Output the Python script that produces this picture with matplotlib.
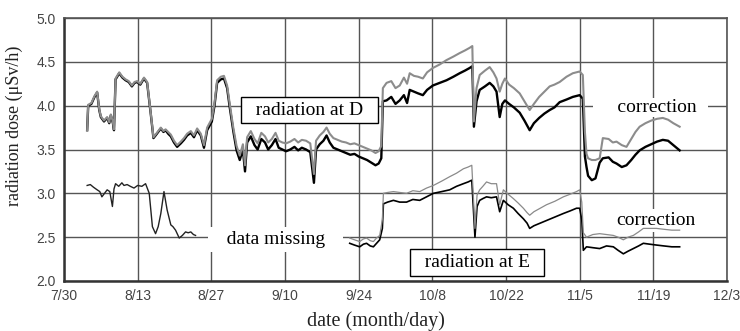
import numpy as np
import matplotlib.pyplot as plt

# days counted from 7/30
tick_days = [0, 14, 28, 42, 56, 70, 84, 98, 112, 126]
tick_labels = ['7/30', '8/13', '8/27', '9/10', '9/24', '10/8', '10/22', '11/5', '11/19', '12/3']
y_ticks = [2.0, 2.5, 3.0, 3.5, 4.0, 4.5, 5.0]

# radiation at D (x0.1 uSv/h scale as on the chart)
d_days = [4.4, 4.6, 5.2, 5.8, 6.3, 6.7, 7.0, 7.6, 8.2, 8.6,
          8.9, 9.3, 9.5, 9.8, 10.5, 11.1, 11.7, 12.3, 12.9, 13.4,
          13.9, 14.5, 15.2, 15.8, 16.5, 17.0, 17.4, 17.9, 18.4, 18.9,
          19.3, 19.8, 20.3, 20.9, 21.5, 22.2, 22.8, 23.4, 24.1, 24.7,
          25.3, 26.0, 26.6, 27.2, 28.1, 28.6, 29.1, 29.8, 30.4, 31.0,
          31.5, 32.2, 32.8, 33.4, 34.0, 34.4, 34.8, 35.5, 36.2, 36.8,
          37.5, 38.2, 38.8, 39.5, 40.2, 40.8, 41.5, 42.2, 43.0, 43.8,
          44.5, 45.2, 46.0, 46.8, 47.5, 47.9, 48.6, 49.3, 49.9, 50.5,
          51.2, 52.0, 52.8, 53.6, 54.4, 55.2, 56.0, 56.8, 57.6, 58.4,
          59.2, 59.8, 60.3, 60.6, 61.3, 62.2, 63.0, 63.8, 64.6, 65.2,
          65.7, 66.5, 67.3, 68.2, 69.0, 70.1, 71.4, 72.7, 74.0, 75.2,
          76.2, 77.1, 77.6, 77.9, 78.4, 79.0, 80.0, 80.9, 81.6, 82.2,
          82.8, 83.3, 83.8, 84.6, 85.5, 86.6, 87.5, 88.5, 89.3, 90.3,
          91.3, 92.3, 93.2, 94.2, 95.5, 96.7, 98.0, 98.6, 99.0, 99.3,
          99.6, 100.3, 101.0, 101.8, 102.4, 103.5, 104.3, 105.0, 106.0, 106.9,
          107.8, 108.6, 109.4, 110.5, 111.6, 112.7, 113.8, 114.8, 115.8, 117.0]
d_raw = [3.72, 4.00, 4.02, 4.10, 4.15, 3.95, 3.87, 3.82, 3.86, 3.80,
         3.89, 3.80, 3.72, 4.30, 4.37, 4.32, 4.29, 4.27, 4.22, 4.26,
         4.27, 4.24, 4.31, 4.26, 3.90, 3.63, 3.66, 3.70, 3.74, 3.70,
         3.72, 3.68, 3.65, 3.58, 3.53, 3.57, 3.61, 3.66, 3.69, 3.64,
         3.72, 3.66, 3.52, 3.72, 3.82, 4.00, 4.26, 4.30, 4.31, 4.20,
         3.98, 3.70, 3.49, 3.38, 3.50, 3.25, 3.58, 3.65, 3.55, 3.50,
         3.62, 3.58, 3.50, 3.55, 3.62, 3.52, 3.50, 3.48, 3.50, 3.53,
         3.49, 3.52, 3.50, 3.47, 3.12, 3.50, 3.56, 3.60, 3.66, 3.58,
         3.52, 3.50, 3.48, 3.46, 3.44, 3.45, 3.42, 3.40, 3.38, 3.35,
         3.32, 3.34, 3.40, 4.05, 4.06, 4.10, 4.02, 4.06, 4.12, 4.03,
         4.18, 4.16, 4.14, 4.12, 4.18, 4.23, 4.26, 4.29, 4.33, 4.37,
         4.40, 4.43, 4.45, 3.76, 4.05, 4.18, 4.22, 4.26, 4.22, 4.16,
         3.87, 4.02, 4.06, 4.02, 3.98, 3.92, 3.83, 3.72, 3.80, 3.86,
         3.91, 3.95, 3.98, 4.04, 4.07, 4.10, 4.12, 4.08, 3.42, 3.30,
         3.20, 3.15, 3.17, 3.35, 3.40, 3.41, 3.36, 3.34, 3.30, 3.32,
         3.38, 3.44, 3.49, 3.53, 3.56, 3.59, 3.61, 3.60, 3.55, 3.49]
d_corr = [3.72, 4.01, 4.03, 4.11, 4.16, 3.96, 3.88, 3.83, 3.87, 3.81,
          3.90, 3.81, 3.73, 4.31, 4.38, 4.33, 4.30, 4.28, 4.23, 4.27,
          4.28, 4.25, 4.32, 4.27, 3.91, 3.64, 3.67, 3.71, 3.75, 3.71,
          3.73, 3.70, 3.67, 3.60, 3.55, 3.59, 3.63, 3.68, 3.71, 3.66,
          3.74, 3.68, 3.55, 3.75, 3.85, 4.03, 4.29, 4.33, 4.34, 4.23,
          4.02, 3.74, 3.54, 3.43, 3.56, 3.32, 3.64, 3.71, 3.62, 3.57,
          3.69, 3.65, 3.58, 3.62, 3.69, 3.60, 3.58, 3.57, 3.59, 3.62,
          3.58, 3.61, 3.60, 3.57, 3.22, 3.60, 3.66, 3.70, 3.75, 3.68,
          3.63, 3.61, 3.59, 3.58, 3.56, 3.57, 3.55, 3.53, 3.51, 3.49,
          3.46, 3.48, 3.54, 4.20, 4.26, 4.28, 4.20, 4.23, 4.32, 4.25,
          4.37, 4.34, 4.33, 4.31, 4.38, 4.43, 4.47, 4.52, 4.56, 4.60,
          4.63, 4.66, 4.68, 3.82, 4.20, 4.35, 4.40, 4.44, 4.38, 4.31,
          4.16, 4.25, 4.31, 4.24, 4.20, 4.14, 4.05, 3.95, 4.02, 4.10,
          4.16, 4.22, 4.24, 4.27, 4.33, 4.37, 4.39, 4.35, 3.70, 3.45,
          3.40, 3.38, 3.38, 3.40, 3.63, 3.62, 3.58, 3.59, 3.55, 3.53,
          3.62, 3.70, 3.76, 3.80, 3.83, 3.85, 3.86, 3.84, 3.80, 3.76]

# radiation at E, before the missing-data gap
e1_days = [4.4, 5.0, 5.6, 6.3, 6.8, 7.2, 7.7, 8.2, 8.7, 9.2,
           9.5, 9.8, 10.4, 11.0, 11.4, 12.0, 12.6, 13.3, 14.0, 14.8,
           15.5, 16.2, 16.8, 17.4, 17.9, 18.4, 19.0, 19.6, 20.3, 20.7,
           21.2, 21.9, 22.5, 23.1, 23.6, 24.1, 24.6, 25.0]
e1_vals = [3.09, 3.10, 3.07, 3.04, 3.02, 2.96, 3.00, 3.04, 3.02, 2.85,
           3.05, 3.11, 3.08, 3.12, 3.09, 3.10, 3.08, 3.06, 3.09, 3.08,
           3.11, 3.00, 2.62, 2.54, 2.62, 2.77, 3.02, 2.81, 2.64, 2.62,
           2.58, 2.49, 2.52, 2.56, 2.55, 2.56, 2.53, 2.52]

# radiation at E, after the gap
e2_days = [54.3, 55.2, 56.2, 56.9, 57.5, 58.2, 58.8, 59.4, 60.0, 60.5,
           60.7, 61.5, 62.6, 63.8, 65.1, 66.3, 67.6, 68.9, 70.2, 71.8,
           73.3, 74.6, 75.9, 76.8, 77.5, 78.1, 78.5, 79.0, 79.6, 80.3,
           81.2, 82.2, 82.8, 83.5, 84.4, 85.4, 86.3, 87.3, 88.0, 88.5,
           89.3, 90.5, 91.7, 93.3, 94.9, 96.2, 97.4, 98.0, 98.4, 98.7,
           99.3, 100.5, 101.8, 103.1, 104.4, 105.3, 106.3, 107.2, 108.2, 109.2,
           110.1, 111.3, 112.6, 114.0, 115.5, 117.0]
e2_raw = [2.43, 2.41, 2.39, 2.42, 2.43, 2.40, 2.39, 2.43, 2.47, 2.60,
          2.88, 2.90, 2.92, 2.90, 2.90, 2.93, 2.92, 2.96, 3.00, 3.02,
          3.04, 3.08, 3.11, 3.13, 3.15, 2.50, 2.85, 2.92, 2.94, 2.96,
          2.95, 2.96, 2.79, 2.92, 2.87, 2.83, 2.77, 2.71, 2.66, 2.60,
          2.63, 2.66, 2.69, 2.73, 2.77, 2.80, 2.83, 2.83, 2.70, 2.35,
          2.39, 2.38, 2.37, 2.40, 2.39, 2.35, 2.31, 2.34, 2.37, 2.40,
          2.43, 2.42, 2.41, 2.40, 2.39, 2.39]
e2_corr = [2.49, 2.47, 2.45, 2.48, 2.49, 2.46, 2.45, 2.49, 2.52, 2.70,
           3.00, 3.01, 3.02, 3.01, 3.00, 3.03, 3.02, 3.06, 3.09, 3.14,
           3.19, 3.23, 3.28, 3.30, 3.32, 2.60, 2.98, 3.04, 3.08, 3.13,
           3.11, 3.11, 2.87, 3.04, 2.99, 2.94, 2.89, 2.83, 2.78, 2.75,
           2.79, 2.83, 2.87, 2.91, 2.96, 2.99, 3.02, 3.04, 2.90, 2.55,
           2.50, 2.53, 2.54, 2.53, 2.52, 2.50, 2.47, 2.50, 2.52, 2.56,
           2.60, 2.60, 2.60, 2.59, 2.58, 2.58]

serif = 'Liberation Serif'
sans = 'Liberation Sans'

fig = plt.figure(figsize=(7.4, 3.31), dpi=100)
ax = fig.add_axes([64 / 740, 50 / 331, 663 / 740, 263 / 331])

ax.plot(d_days, d_raw, color='black', lw=1.7, zorder=3)
ax.plot(d_days, d_corr, color='#8c8c8c', lw=1.5, zorder=3.5)
ax.plot(e1_days, e1_vals, color='#222222', lw=1.0, zorder=3)
ax.plot(e2_days, e2_raw, color='black', lw=1.2, zorder=3)
ax.plot(e2_days, e2_corr, color='#8a8a8a', lw=0.9, zorder=3.5)

ax.set_xlim(0, 126)
ax.set_ylim(2.0, 5.0)
ax.set_xticks(tick_days)
ax.set_xticklabels(tick_labels)
ax.set_yticks(y_ticks)
ax.set_yticklabels(['%.1f' % v for v in y_ticks])
ax.tick_params(length=0, labelsize=10, labelcolor='#444444', pad=6)
for lab in ax.get_xticklabels() + ax.get_yticklabels():
    lab.set_fontfamily(sans)

ax.grid(True, color='#555555', lw=1.0)
ax.set_axisbelow(True)
for side in ['left', 'bottom']:
    ax.spines[side].set_color('#333333')
    ax.spines[side].set_linewidth(1.8)
for side in ['top', 'right']:
    ax.spines[side].set_color('#555555')
    ax.spines[side].set_linewidth(1.2)

ax.set_xlabel('date (month/day)', fontfamily=serif, fontsize=14.5, color='#222222')
ax.xaxis.set_label_coords(0.47, -0.115)
ax.set_ylabel('radiation dose (\u03bcSv/h)', fontfamily=serif, fontsize=13, color='#222222')
ax.yaxis.set_label_coords(-0.062, 0.59)

# labels
ax.text(46.7, 3.95, '  radiation at D  ', fontfamily=serif, fontsize=14, ha='center', va='center',
        zorder=5, bbox=dict(boxstyle='square,pad=0.25', fc='white', ec='black', lw=1.0))
ax.text(78.5, 2.21, '  radiation at E  ', fontfamily=serif, fontsize=14, ha='center', va='center',
        zorder=5, bbox=dict(boxstyle='square,pad=0.25', fc='white', ec='black', lw=1.0))
ax.text(40.2, 2.47, '   data missing   ', fontfamily=serif, fontsize=14, ha='center', va='center',
        zorder=2, bbox=dict(boxstyle='square,pad=0.2', fc='white', ec='none'))
ax.text(111.4, 3.98, '     correction  ', fontfamily=serif, fontsize=14, ha='center', va='center',
        zorder=2, bbox=dict(boxstyle='square,pad=0.05', fc='white', ec='none'))
ax.text(112.5, 2.69, 'correction', fontfamily=serif, fontsize=14, ha='center', va='center',
        zorder=2, bbox=dict(boxstyle='square,pad=0.15', fc='white', ec='none'))

fig.savefig('out.png', dpi=100)
